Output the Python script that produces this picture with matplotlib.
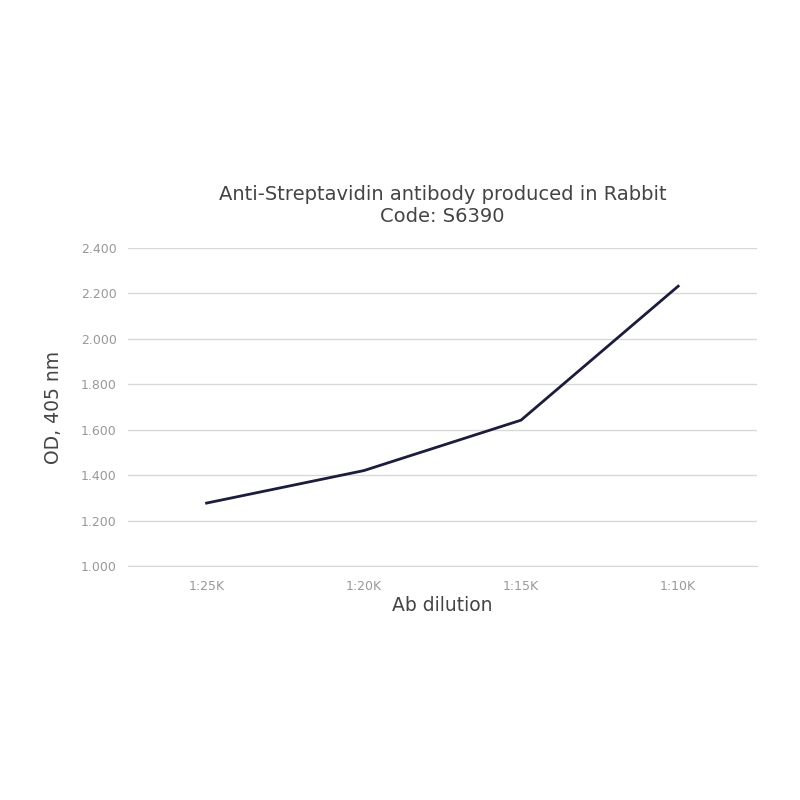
import matplotlib.pyplot as plt

# data
dilutions = ['1:25K', '1:20K', '1:15K', '1:10K']
od_values = [1.277, 1.420, 1.642, 2.232]
y_ticks = [1.0, 1.2, 1.4, 1.6, 1.8, 2.0, 2.2, 2.4]
y_tick_labels = ['1.000', '1.200', '1.400', '1.600', '1.800', '2.000', '2.200', '2.400']

fig = plt.figure(figsize=(8, 8), dpi=100)
ax = fig.add_axes([0.16, 0.2925, 0.786, 0.3975])

x = list(range(len(dilutions)))
ax.plot(x, od_values, color='#1c1c3c', linewidth=2)

ax.set_xlim(-0.5, 3.5)
ax.set_ylim(1.0, 2.4)
ax.set_xticks(x)
ax.set_xticklabels(dilutions)
ax.set_yticks(y_ticks)
ax.set_yticklabels(y_tick_labels)
ax.tick_params(axis='both', length=0, labelsize=9, labelcolor='#999999')
ax.tick_params(axis='x', pad=10)
ax.tick_params(axis='y', pad=8)

ax.grid(axis='y', color='#d8d8d8', linewidth=1)
ax.set_axisbelow(True)
for s in ['top', 'right', 'left']:
    ax.spines[s].set_visible(False)
ax.spines['bottom'].set_color('#d8d8d8')

ax.set_xlabel('Ab dilution', fontsize=13.5, color='#444444', labelpad=2)
ax.set_ylabel('OD, 405 nm', fontsize=13.5, color='#444444', labelpad=13)
ax.set_title('Anti-Streptavidin antibody produced in Rabbit\nCode: S6390',
             fontsize=14, color='#444444', pad=19, linespacing=1.2)

plt.savefig('out.png', dpi=100)
